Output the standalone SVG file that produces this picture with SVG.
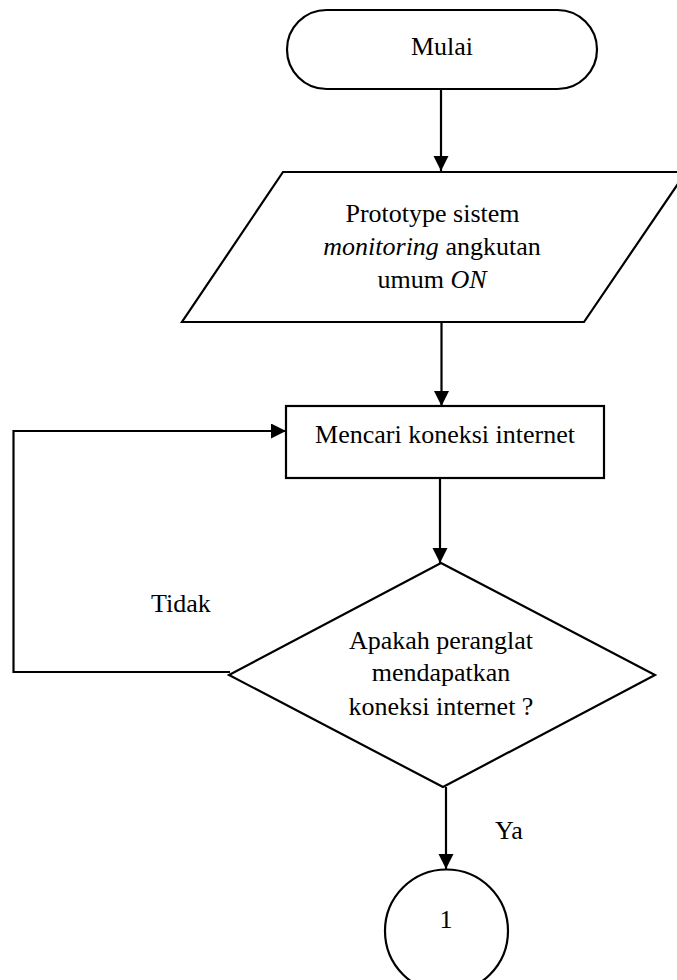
<svg xmlns="http://www.w3.org/2000/svg" width="677" height="980" viewBox="0 0 677 980">
<style>
.s{fill:#fff;stroke:#000;stroke-width:2.2}
.c{fill:none;stroke:#000;stroke-width:2.2}
text{font-family:"Liberation Serif","Times New Roman",serif;font-size:26px;fill:#000}
.m{text-anchor:middle}
</style>
<defs>
<marker id="ah" markerUnits="userSpaceOnUse" markerWidth="16" markerHeight="16" refX="15" refY="7.5" orient="auto">
<path d="M0,0 L15,7.5 L0,15 z" fill="#000"/>
</marker>
</defs>
<rect width="677" height="980" fill="#fff"/>
<g id="connectors">
<line class="c" x1="441" y1="89" x2="441" y2="171" marker-end="url(#ah)"/>
<line class="c" x1="441.5" y1="322" x2="441.5" y2="406" marker-end="url(#ah)"/>
<path class="c" d="M230,672 H13.5 V431 H286" marker-end="url(#ah)"/>
<line class="c" x1="440" y1="478" x2="440" y2="563" marker-end="url(#ah)"/>
<line class="c" x1="446" y1="787" x2="446" y2="869" marker-end="url(#ah)"/>
<text x="151" y="612">Tidak</text>
<text x="495" y="839">Ya</text>
</g>
<g id="start">
<rect class="s" x="287" y="10" width="310" height="79" rx="39.5"/>
<text class="m" x="442" y="55">Mulai</text>
</g>
<g id="input">
<polygon class="s" points="283,172 686,172 584,322 182,322"/>
<text class="m" x="432.5" y="222">Prototype sistem</text>
<text class="m" x="432" y="255"><tspan font-style="italic">monitoring</tspan> angkutan</text>
<text class="m" x="432" y="288">umum <tspan font-style="italic">ON</tspan></text>
</g>
<g id="process">
<rect class="s" x="286" y="406" width="318" height="72"/>
<text class="m" x="445" y="443">Mencari koneksi internet</text>
</g>
<g id="decision">
<polygon class="s" points="441,563 655,675 443,787 229,675"/>
<text class="m" x="441" y="649">Apakah peranglat</text>
<text class="m" x="441" y="681">mendapatkan</text>
<text class="m" x="441" y="715">koneksi internet ?</text>
</g>
<g id="connector1">
<circle class="s" cx="446.5" cy="931" r="61.5"/>
<text class="m" x="446" y="928">1</text>
</g>
</svg>
